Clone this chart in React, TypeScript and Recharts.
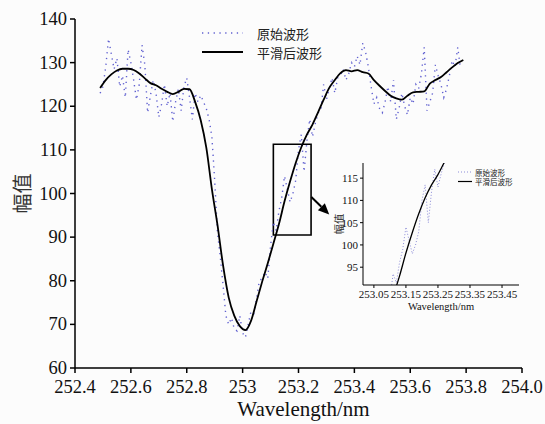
import React from 'react';
import { LineChart, Line, XAxis, YAxis, ReferenceArea, ReferenceLine, Legend } from 'recharts';

// ---------- data ----------
const rawWavelength = [
  252.49, 252.50, 252.51, 252.52, 252.53, 252.54, 252.55, 252.56, 252.57, 252.58,
  252.59, 252.60, 252.61, 252.62, 252.63, 252.64, 252.65, 252.66, 252.67, 252.68,
  252.69, 252.70, 252.71, 252.72, 252.73, 252.74, 252.75, 252.76, 252.77, 252.78,
  252.79, 252.80, 252.81, 252.82, 252.83, 252.84, 252.85, 252.86, 252.87, 252.88,
  252.89, 252.90, 252.91, 252.92, 252.93, 252.94, 252.95, 252.96, 252.97, 252.98,
  252.99, 253.00, 253.01, 253.02, 253.03, 253.04, 253.05, 253.06, 253.07, 253.08,
  253.09, 253.10, 253.11, 253.12, 253.13, 253.14, 253.15, 253.16, 253.17, 253.18,
  253.19, 253.20, 253.21, 253.22, 253.23, 253.24, 253.25, 253.26, 253.27, 253.28,
  253.29, 253.30, 253.31, 253.32, 253.33, 253.34, 253.35, 253.36, 253.37, 253.38,
  253.39, 253.40, 253.41, 253.42, 253.43, 253.44, 253.45, 253.46, 253.47, 253.48,
  253.49, 253.50, 253.51, 253.52, 253.53, 253.54, 253.55, 253.56, 253.57, 253.58,
  253.59, 253.60, 253.61, 253.62, 253.63, 253.64, 253.65, 253.66, 253.67, 253.68,
  253.69, 253.70, 253.71, 253.72, 253.73, 253.74, 253.75, 253.76, 253.77, 253.78,
];
const rawAmplitude = [
  123, 124.5, 129, 135.5, 132, 128.5, 131, 124.5, 127, 122,
  133, 130, 126, 121.5, 125, 134, 129.5, 118.5, 122.5, 126,
  123, 117.5, 120.5, 125, 120, 123, 116.5, 121, 124, 119,
  124.5, 126.5, 122, 117, 123, 121, 122.5, 121, 119.5, 117,
  113, 103, 91, 85.5, 79, 72, 70, 71.5, 69, 68.5,
  72, 68, 67, 70, 73, 72.5, 76, 80, 80.5, 82,
  80.5, 88, 93.5, 91.5, 96, 99, 104, 101, 98, 100,
  103, 110, 113.5, 105, 112, 117, 113, 116, 118.5, 119,
  125, 121.5, 124, 126.5, 123, 126.5, 127, 128.5, 126, 127.5,
  130, 129, 131.5, 129.5, 134.5, 132.5, 129, 124.5, 120.5, 122,
  119.5, 118.5, 121, 124.5, 121, 126, 117, 119.5, 123, 120,
  118, 122, 120.5, 125, 124, 127.5, 133.5, 119, 121, 123,
  129.5, 127, 125, 122, 124, 127, 130.5, 129, 133.5, 128.5,
];

const smoothWavelength = [
  252.49, 252.51, 252.53, 252.55, 252.57, 252.59, 252.61, 252.63, 252.65, 252.67,
  252.69, 252.71, 252.73, 252.75, 252.77, 252.79, 252.81, 252.83, 252.85, 252.87,
  252.89, 252.91, 252.93, 252.95, 252.97, 252.99, 253.01, 253.03, 253.05, 253.07,
  253.09, 253.11, 253.13, 253.15, 253.17, 253.19, 253.21, 253.23, 253.25, 253.27,
  253.29, 253.31, 253.33, 253.35, 253.37, 253.39, 253.41, 253.43, 253.45, 253.47,
  253.49, 253.51, 253.53, 253.55, 253.57, 253.59, 253.61, 253.63, 253.65, 253.67,
  253.69, 253.71, 253.73, 253.75, 253.77, 253.79,
];
const smoothAmplitude = [
  124.2, 126.0, 127.3, 128.2, 128.6, 128.6, 128.3, 127.5, 126.4, 125.3,
  124.8, 124.0, 123.3, 122.8, 123.3, 124.0, 123.9, 121.0, 116.8, 110.5,
  101.0, 92.8, 83.5, 76.2, 72.0, 69.6, 68.7, 70.8, 75.3, 79.8,
  84.0, 88.5, 93.0, 98.2, 102.8, 107.0, 110.6, 113.5, 115.8, 118.6,
  121.5, 124.2, 126.0, 127.6, 128.3, 128.0, 128.3, 127.8, 127.5, 126.0,
  124.7, 123.5, 122.4, 121.8, 121.5, 122.4, 123.2, 123.3, 123.4, 125.2,
  126.0, 126.7, 127.8, 128.9, 129.9, 130.6,
];

const seriesNames = ['原始波形', '平滑后波形'];
const axisTitleX = 'Wavelength/nm';
const axisTitleY = '幅值';

const mainXTicks = [252.4, 252.6, 252.8, 253.0, 253.2, 253.4, 253.6, 253.8, 254.0];
const mainXTickLabels = ['252.4', '252.6', '252.8', '253', '253.2', '253.4', '253.6', '253.8', '254.0'];
const mainYTicks = [60, 70, 80, 90, 100, 110, 120, 130, 140];

const insetXTicks = [253.05, 253.15, 253.25, 253.35, 253.45];
const insetXTickLabels = ['253.05', '253.15', '253.25', '253.35', '253.45'];
const insetYTicks = [95, 100, 105, 110, 115];

// zoom box and arrow (in data units)
const zoomBox = { x1: 253.11, x2: 253.245, y1: 90.5, y2: 111.3 };
const arrowSegment = [{ x: 253.246, y: 99.2 }, { x: 253.31, y: 95.2 }];

const rawData = rawWavelength.map((x, i) => ({ x, y: rawAmplitude[i] }));
const smoothData = smoothWavelength.map((x, i) => ({ x, y: smoothAmplitude[i] }));

// ---------- styling ----------
const SERIF = '"Liberation Serif", "DejaVu Serif", serif';
const CJK = '"Noto Sans CJK SC", "Noto Sans", sans-serif';
const RAW_COLOR = '#6060d0';
const BG = '#fcfcfc';

const labelFor = (ticks: number[], labels: string[]) => (v: number) => {
  let best = 0;
  ticks.forEach((t, i) => {
    if (Math.abs(t - v) < Math.abs(ticks[best] - v)) best = i;
  });
  return labels[best];
};

const makeTick = (fontSize: number, axis: 'x' | 'y', gap: number) => (props: any) => {
  const { x, y, payload, tickFormatter } = props;
  const label = tickFormatter ? tickFormatter(payload.value, payload.index) : String(payload.value);
  if (axis === 'x') {
    return (
      <text x={x} y={y + gap} textAnchor="middle" dominantBaseline="hanging" fontSize={fontSize} fill="#111" style={{ fontFamily: SERIF }}>
        {label}
      </text>
    );
  }
  return (
    <text x={x - gap} y={y} textAnchor="end" dominantBaseline="central" fontSize={fontSize} fill="#111" style={{ fontFamily: SERIF }}>
      {label}
    </text>
  );
};

const ArrowShape = (p: any) => {
  const { x1, y1, x2, y2 } = p;
  if ([x1, y1, x2, y2].some((v) => typeof v !== 'number' || isNaN(v))) return <g />;
  const dx = x2 - x1;
  const dy = y2 - y1;
  const len = Math.sqrt(dx * dx + dy * dy);
  const ux = dx / len;
  const uy = dy / len;
  const headLen = 11;
  const headW = 5;
  const bx = x2 - ux * headLen;
  const by = y2 - uy * headLen;
  const px = -uy;
  const py = ux;
  const pts = `${x2},${y2} ${bx + px * headW},${by + py * headW} ${bx - px * headW},${by - py * headW}`;
  return (
    <g>
      <line x1={x1} y1={y1} x2={bx} y2={by} stroke="#000" strokeWidth={2} />
      <polygon points={pts} fill="#000" />
    </g>
  );
};

const makeLegend = (opts: {
  lineX1: number; lineX2: number; textX: number; rowY: number[]; fontSize: number; dash: string; rawWidth: number; smoothWidth: number; rawColor: string;
}) => () => (
  <svg width={200} height={60} style={{ overflow: 'visible', position: 'absolute', left: 0, top: 0 }}>
    <line x1={opts.lineX1} x2={opts.lineX2} y1={opts.rowY[0]} y2={opts.rowY[0]} stroke={opts.rawColor} strokeWidth={opts.rawWidth} strokeDasharray={opts.dash} />
    <text x={opts.textX} y={opts.rowY[0]} dominantBaseline="central" fontSize={opts.fontSize} fill="#222" style={{ fontFamily: CJK }}>{seriesNames[0]}</text>
    <line x1={opts.lineX1} x2={opts.lineX2} y1={opts.rowY[1]} y2={opts.rowY[1]} stroke="#000" strokeWidth={opts.smoothWidth} />
    <text x={opts.textX} y={opts.rowY[1]} dominantBaseline="central" fontSize={opts.fontSize} fill="#222" style={{ fontFamily: CJK }}>{seriesNames[1]}</text>
  </svg>
);

const MainLegend = makeLegend({ lineX1: 0, lineX2: 41, textX: 55, rowY: [0, 19], fontSize: 13, dash: '1.3 4.5', rawWidth: 1.4, smoothWidth: 1.8, rawColor: RAW_COLOR });
const InsetLegend = makeLegend({ lineX1: 0, lineX2: 14, textX: 17, rowY: [0, 9.5], fontSize: 7.5, dash: '1 2', rawWidth: 1, smoothWidth: 1.2, rawColor: '#8c8cd8' });

const makeYTitle = (dx: number, fontSize: number) => (props: any) => {
  const vb = props.viewBox || {};
  const cx = (vb.x ?? 0) + dx;
  const cy = (vb.y ?? 0) + (vb.height ?? 0) / 2;
  return (
    <text x={cx} y={cy} transform={`rotate(-90 ${cx} ${cy})`} textAnchor="middle" dominantBaseline="central" fontSize={fontSize} fill="#333" style={{ fontFamily: CJK }}>
      {axisTitleY}
    </text>
  );
};

const makeXTitle = (dy: number, dx: number, fontSize: number) => (props: any) => {
  const vb = props.viewBox || {};
  const cx = (vb.x ?? 0) + (vb.width ?? 0) / 2 + dx;
  const cy = (vb.y ?? 0) + dy;
  return (
    <text x={cx} y={cy} textAnchor="middle" fontSize={fontSize} fill="#111" style={{ fontFamily: SERIF }}>
      {axisTitleX}
    </text>
  );
};

const MainChart = () => (
  <LineChart width={545} height={424} margin={{ top: 19, right: 23, bottom: 0, left: 0 }} style={{ fontFamily: SERIF }}>
    <XAxis
      type="number"
      dataKey="x"
      domain={[252.4, 254.0]}
      ticks={mainXTicks}
      interval={0}
      allowDataOverflow
      tickFormatter={labelFor(mainXTicks, mainXTickLabels)}
      height={56}
      tickSize={5}
      tickMargin={0}
      axisLine={{ stroke: '#000', strokeWidth: 1.5 }}
      tickLine={{ stroke: '#000', strokeWidth: 1.5 }}
      tick={makeTick(18.5, 'x', 7)}
      label={makeXTitle(48, 5, 21)}
    />
    <YAxis
      type="number"
      domain={[60, 140]}
      ticks={mainYTicks}
      interval={0}
      allowDataOverflow
      width={75}
      tickSize={5}
      tickMargin={0}
      axisLine={{ stroke: '#000', strokeWidth: 1.5 }}
      tickLine={{ stroke: '#000', strokeWidth: 1.5 }}
      tick={makeTick(18.5, 'y', 3)}
      label={makeYTitle(21, 20)}
    />
    <Legend layout="vertical" align="center" verticalAlign="middle" wrapperStyle={{ left: 202, top: 33, width: 200, height: 40 }} content={MainLegend} />
    <Line data={rawData} dataKey="y" name={seriesNames[0]} type="linear" stroke={RAW_COLOR} strokeWidth={1.4} strokeDasharray="1.3 4.5" dot={false} activeDot={false} isAnimationActive={false} />
    <Line data={smoothData} dataKey="y" name={seriesNames[1]} type="monotone" stroke="#000" strokeWidth={1.8} dot={false} activeDot={false} isAnimationActive={false} />
    <ReferenceArea x1={zoomBox.x1} x2={zoomBox.x2} y1={zoomBox.y1} y2={zoomBox.y2} fill="none" fillOpacity={0} stroke="#000" strokeWidth={1.6} />
    <ReferenceLine segment={arrowSegment} shape={ArrowShape} />
  </LineChart>
);

const InsetChart = () => (
  <LineChart width={210} height={170} margin={{ top: 13, right: 21, bottom: 0, left: 0 }} style={{ fontFamily: SERIF }}>
    <XAxis
      type="number"
      dataKey="x"
      domain={[253.016, 253.503]}
      ticks={insetXTicks}
      interval={0}
      allowDataOverflow
      tickFormatter={labelFor(insetXTicks, insetXTickLabels)}
      height={35}
      tickSize={3}
      tickMargin={0}
      axisLine={{ stroke: '#000', strokeWidth: 1 }}
      tickLine={{ stroke: '#000', strokeWidth: 1 }}
      tick={makeTick(11, 'x', 2)}
      label={makeXTitle(25, 0, 10.5)}
    />
    <YAxis
      type="number"
      domain={[91, 118.4]}
      ticks={insetYTicks}
      interval={0}
      allowDataOverflow
      width={33}
      tickSize={3}
      tickMargin={0}
      axisLine={{ stroke: '#000', strokeWidth: 1 }}
      tickLine={{ stroke: '#000', strokeWidth: 1 }}
      tick={makeTick(11, 'y', 2)}
      label={makeYTitle(8, 10.5)}
    />
    <Legend layout="vertical" align="center" verticalAlign="middle" wrapperStyle={{ left: 128, top: 22, width: 80, height: 20 }} content={InsetLegend} />
    <Line data={rawData} dataKey="y" name={seriesNames[0]} type="linear" stroke="#8c8cd8" strokeWidth={1} strokeDasharray="1 2" dot={false} activeDot={false} isAnimationActive={false} />
    <Line data={smoothData} dataKey="y" name={seriesNames[1]} type="monotone" stroke="#000" strokeWidth={1.3} dot={false} activeDot={false} isAnimationActive={false} />
  </LineChart>
);

export default function App() {
  return (
    <div style={{ position: 'absolute', left: 0, top: 0, width: 545, height: 424, background: BG, fontFamily: SERIF }}>
      <MainChart />
      <div style={{ position: 'absolute', left: 330, top: 150 }}>
        <InsetChart />
      </div>
    </div>
  );
}
